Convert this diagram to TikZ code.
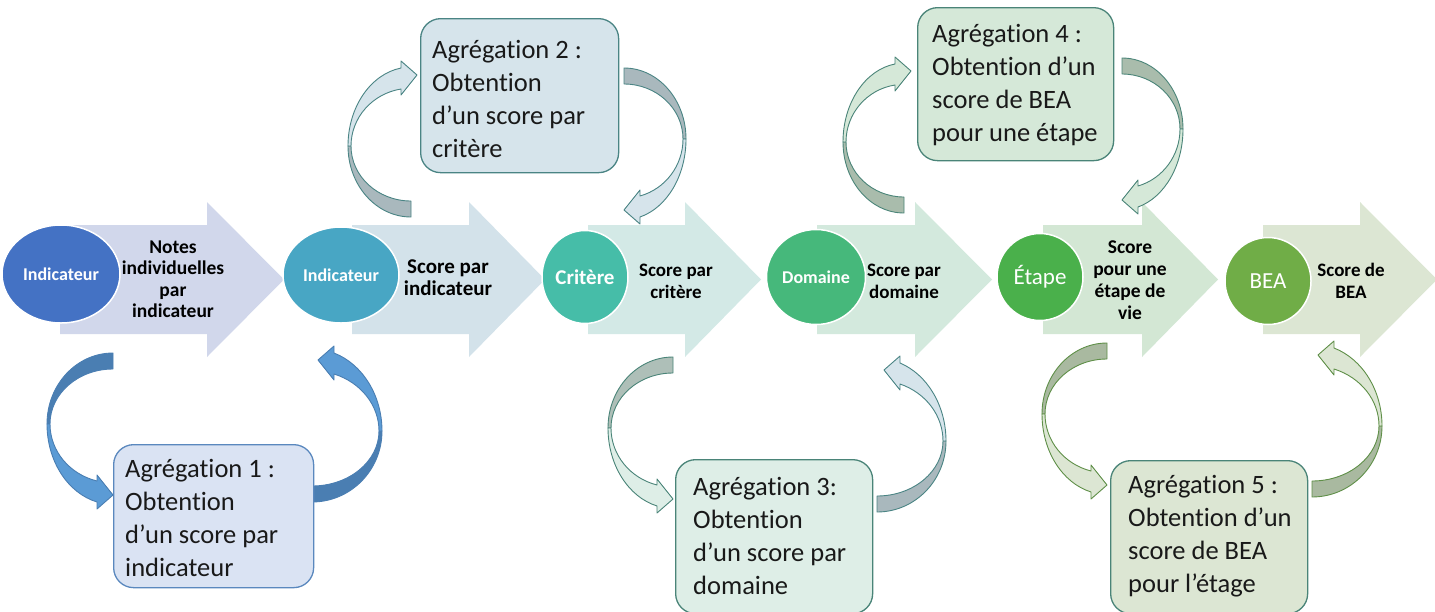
\documentclass[tikz,border=0pt]{standalone}
\usepackage{fontspec}
\setmainfont{Carlito}[Ligatures=NoCommon]
\usetikzlibrary{shapes.geometric}
% big arrow fills
\definecolor{arrA}{HTML}{D1D7EB}
\definecolor{arrB}{HTML}{D3E2EA}
\definecolor{arrC}{HTML}{D3E9E6}
\definecolor{arrD}{HTML}{D3E9DD}
\definecolor{arrE}{HTML}{D3E7D4}
\definecolor{arrF}{HTML}{DCE6D3}
% circles
\definecolor{cA}{HTML}{4472C4}
\definecolor{cB}{HTML}{48A6C4}
\definecolor{cC}{HTML}{46BDA8}
\definecolor{cD}{HTML}{46B87B}
\definecolor{cE}{HTML}{4AB04B}
\definecolor{cF}{HTML}{70AD47}
% boxes
\definecolor{bxA}{HTML}{DAE3F3}\definecolor{lnA}{HTML}{5A88BE}
\definecolor{bxB}{HTML}{D6E4EB}\definecolor{lnB}{HTML}{4A8484}
\definecolor{bxC}{HTML}{DEEEE7}\definecolor{lnC}{HTML}{4A8478}
\definecolor{bxD}{HTML}{D5E8D8}
\definecolor{bxE}{HTML}{DCE6D3}
% curved arrows
\definecolor{cvAd}{HTML}{4A7EB2}\definecolor{cvAl}{HTML}{5B9BD5}
\definecolor{cvBd}{HTML}{A9B8BD}
\definecolor{cvCd}{HTML}{AEBFB8}
\definecolor{cvDd}{HTML}{A9BCAC}
\definecolor{cvEd}{HTML}{A9B9A0}\definecolor{lnE}{HTML}{5F8F48}

% curved block arrow: x, y (outer tail corner), xscale, yscale, W, head shift, dark, light, line
\newcommand{\curvarr}[9]{%
 \begin{scope}[shift={(#1,#2)}, xscale=#3, yscale=#4]
  \pgfmathsetmacro{\Wo}{#5}%
  \pgfmathsetmacro{\Wi}{#5-3}%
  \pgfmathsetmacro{\bx}{-16+#6}%
  \pgfmathsetmacro{\tho}{acos(\bx/\Wo)}%
  \pgfmathsetmacro{\thi}{acos(\bx/\Wi)}%
  \pgfmathsetmacro{\ryo}{78/sin(\tho)}%
  \pgfmathsetmacro{\ryi}{57/sin(\thi)}%
  \filldraw[fill=#7, draw=#9, line width=0.9pt, line join=round]
    (0,0) arc[start angle=-90, end angle=-180, x radius=\Wo, y radius=71]
    -- ++(3,0) arc[start angle=180, end angle=270, x radius=\Wi, y radius=55] -- cycle;
  \filldraw[fill=#8, draw=#9, line width=0.9pt, line join=round]
    (-\Wo,71) arc[start angle=180, end angle=\tho, x radius=\Wo, y radius=\ryo]
    -- (\bx,156) -- (#6,142) -- (\bx,122) -- (\bx,128)
    arc[start angle=\thi, end angle=180, x radius=\Wi, y radius=\ryi] -- cycle;
 \end{scope}}

\newcommand{\bigarr}[4]{%
  \fill[#4] (#1,225) -- (#2,225) -- (#2,202) -- (#3,279.5) -- (#2,357) -- (#2,334) -- (#1,334) -- cycle;}

\begin{document}
\begin{tikzpicture}[x=1pt,y=-1pt,
  circ/.style={ellipse, draw=white, line width=1.5pt, inner sep=0pt, text=white},
  aggbox/.style={rectangle, rounded corners=20pt, line width=1.3pt, inner sep=0pt, anchor=north west},
  arrtext/.style={align=center, inner sep=0pt, text=black},
  boxtext/.style={anchor=base west, inner sep=0pt, font=\fontsize{26.5}{33}\selectfont, text=black!90}
]
\useasboundingbox (0,0) rectangle (1435,611);
\clip (0,0) rectangle (1435,611);

% big process arrows
\bigarr{60}{207}{284}{arrA}
\bigarr{352}{469}{545}{arrB}
\bigarr{588}{685}{761}{arrC}
\bigarr{817}{915}{992}{arrD}
\bigarr{1043}{1142}{1218}{arrE}
\bigarr{1263}{1360}{1437}{arrF}

% circles
\node[circ, fill=cA, minimum width=118pt, minimum height=98pt, font=\bfseries\fontsize{18}{20}\selectfont] (ind1) at (61,274) {Indicateur};
\node[circ, fill=cB, minimum width=116pt, minimum height=96pt, font=\bfseries\fontsize{18}{20}\selectfont] (ind2) at (341,275) {Indicateur};
\node[circ, fill=cC, minimum width=86pt, minimum height=93pt, font=\bfseries\fontsize{21}{23}\selectfont] (crit) at (585,277) {Critère};
\node[circ, fill=cD, minimum width=99pt, minimum height=95pt, font=\bfseries\fontsize{18}{20}\selectfont] (dom) at (816,277) {Domaine};
\node[circ, fill=cE, minimum width=86pt, minimum height=87pt, font=\fontsize{23}{25}\selectfont] (etape) at (1040,277) {Étape};
\node[circ, fill=cF, minimum width=86pt, minimum height=87pt, font=\fontsize{23}{25}\selectfont] (bea) at (1268,281) {BEA};

% arrow texts
\node[arrtext, font=\bfseries\fontsize{19.5}{21.5}\selectfont] (t1) at (173,279) {Notes\\individuelles\\par\\indicateur};
\node[arrtext, font=\bfseries\fontsize{21}{22}\selectfont] (t2) at (448,278) {Score par\\indicateur};
\node[arrtext, font=\bfseries\fontsize{19}{22}\selectfont] (t3) at (676,281) {Score par\\critère};
\node[arrtext, font=\bfseries\fontsize{19}{22}\selectfont] (t4) at (904,281) {Score par\\domaine};
\node[arrtext, font=\bfseries\fontsize{19.5}{22}\selectfont] (t5) at (1130,280) {Score\\pour une\\étape de\\vie};
\node[arrtext, font=\bfseries\fontsize{19}{22}\selectfont] (t6) at (1351,281) {Score de\\BEA};

% curved arrows
\curvarr{113}{353}{1}{1}{66}{0}{cvAd}{cvAl}{cvAd}
\curvarr{312}{502}{-1}{-1}{70}{-6}{cvAd}{cvAl}{cvAd}
\curvarr{411}{217}{1}{-1}{63}{6}{cvBd}{bxB}{lnB}
\curvarr{624}{68}{-1}{1}{62}{0}{cvBd}{bxB}{lnB}
\curvarr{673}{357}{1}{1}{65}{0}{cvCd}{bxC}{lnC}
\curvarr{877}{512}{-1}{-1}{69}{-7}{cvBd}{bxB}{lnB}
\curvarr{904}{213}{1}{-1}{61}{7}{cvDd}{bxD}{lnC}
\curvarr{1122}{58}{-1}{1}{61}{0}{cvDd}{bxD}{lnC}
\curvarr{1107}{343}{1}{1}{65}{0}{cvEd}{bxE}{lnE}
\curvarr{1312}{497}{-1}{-1}{70}{-6}{cvEd}{bxE}{lnE}

% aggregation boxes
\node[aggbox, fill=bxA, draw=lnA, minimum width=200pt, minimum height=143pt] (agg1) at (113,444) {};
\node[aggbox, fill=bxB, draw=lnB, minimum width=198pt, minimum height=154pt] (agg2) at (420,18) {};
\node[aggbox, fill=bxC, draw=lnC, minimum width=197pt, minimum height=154pt] (agg3) at (675,459) {};
\node[aggbox, fill=bxD, draw=lnC, minimum width=196pt, minimum height=153pt] (agg4) at (917,7) {};
\node[aggbox, fill=bxE, draw=lnC, minimum width=197pt, minimum height=153pt] (agg5) at (1110,460) {};

\node[boxtext] (a1) at (125,477) {\begin{tabular}[t]{@{}l@{}}Agrégation 1 :\\Obtention\\d’un score par\\indicateur\end{tabular}};
\node[boxtext] (a2) at (432,58) {\begin{tabular}[t]{@{}l@{}}Agrégation 2 :\\Obtention\\d’un score par\\critère\end{tabular}};
\node[boxtext] (a3) at (693,495) {\begin{tabular}[t]{@{}l@{}}Agrégation 3:\\Obtention\\d’un score par\\domaine\end{tabular}};
\node[boxtext] (a4) at (932,42) {\begin{tabular}[t]{@{}l@{}}Agrégation 4 :\\Obtention d’un\\score de BEA\\pour une étape\end{tabular}};
\node[boxtext] (a5) at (1128,493) {\begin{tabular}[t]{@{}l@{}}Agrégation 5 :\\Obtention d’un\\score de BEA\\pour l’étage\end{tabular}};
\end{tikzpicture}
\end{document}
